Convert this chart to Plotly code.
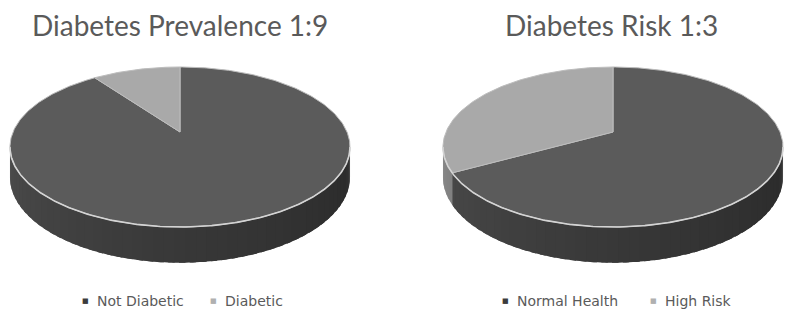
import numpy as np
import plotly.graph_objects as go

# ---- data ----
left_title = "Diabetes Prevalence 1:9"
left_labels = ["Not Diabetic", "Diabetic"]
left_values = [90, 10]

right_title = "Diabetes Risk 1:3"
right_labels = ["Normal Health", "High Risk"]
right_values = [67, 33]

slice_colors = ["#5b5b5b", "#a9a9a9"]
legend_colors = ["#3c3c3c", "#b0b0b0"]

# ---- geometry / style ----
W, H = 786, 320
R, A, K, DEPTH = 167, 77.2, 0.1875, 29
FONT = "Lato"
TXT = "#5a5a5a"


def proj(cx, cy, th, drop=0.0):
    t = np.radians(th)
    s, c = np.sin(t), np.cos(t)
    w = 1 + K * c
    return cx + R * s / w, cy - A * c / w + drop * DEPTH / w


def side_gray(th, light):
    g = np.interp(th, [100, 114, 180, 260], [60, 44, 56, 76])
    if light:
        g = g * 1.8
    g = int(round(min(g, 255)))
    return f"rgb({g},{g},{g})"


def side_poly(cx, cy, a0, a1, n):
    th = np.linspace(a0, a1, n)
    xt, yt = proj(cx, cy, th)
    xb, yb = proj(cx, cy, th[::-1], 1.0)
    return list(xt) + list(xb), list(yt) + list(yb)


def add_pie(fig, cx, cy, values):
    total = float(sum(values))
    bounds = np.concatenate([[0.0], np.cumsum(values) / total * 360.0])
    vis0 = np.degrees(np.arccos(-K))
    vis1 = 360.0 - vis0
    # outer side walls (front, visible part)
    for i in range(len(values)):
        a0, a1 = max(bounds[i], vis0), min(bounds[i + 1], vis1)
        if a1 <= a0:
            continue
        n = int(np.ceil((a1 - a0) / 3.0))
        edges = np.linspace(a0, a1, n + 1)
        step = edges[1] - edges[0]
        for t0, t1 in zip(edges[:-1], edges[1:]):
            t_end = min(t1 + 0.6 * step, a1)
            sx, sy = side_poly(cx, cy, t0, t_end, 6)
            col = side_gray((t0 + t1) / 2.0, i == 1)
            fig.add_trace(go.Scatter(
                x=sx, y=sy, fill="toself", fillcolor=col, mode="none",
                hoverinfo="skip", showlegend=False))
    # top faces
    for i in range(len(values)):
        n = max(3, int(np.ceil((bounds[i + 1] - bounds[i]) / 1.0)))
        th = np.linspace(bounds[i], bounds[i + 1], n + 1)
        x, y = proj(cx, cy, th)
        fig.add_trace(go.Scatter(
            x=[cx] + list(x) + [cx], y=[cy] + list(y) + [cy],
            fill="toself", fillcolor=slice_colors[i], mode="lines",
            line=dict(color="#bdbdbd", width=1),
            hoverinfo="skip", showlegend=False))
    # rim highlight on front edge
    th = np.linspace(vis0, vis1, 240)
    x, y = proj(cx, cy, th)
    fig.add_trace(go.Scatter(
        x=list(x), y=list(y), mode="lines",
        line=dict(color="#d4d4d4", width=1.6),
        hoverinfo="skip", showlegend=False))


fig = go.Figure()
add_pie(fig, 180, 132, left_values)
add_pie(fig, 613, 132, right_values)

ann = []
ann.append(dict(x=180, y=25, text=left_title, showarrow=False,
                xanchor="center", yanchor="middle",
                font=dict(family=FONT, size=28, color=TXT)))
ann.append(dict(x=611, y=25, text=right_title, showarrow=False,
                xanchor="center", yanchor="middle",
                font=dict(family=FONT, size=28, color=TXT)))

legend_pos = [
    (left_labels, [85, 213]),
    (right_labels, [505, 653]),
]
for labels, xs in legend_pos:
    for j, (lab, xm) in enumerate(zip(labels, xs)):
        ann.append(dict(x=xm, y=301, text="■", showarrow=False,
                        xanchor="center", yanchor="middle",
                        font=dict(family="DejaVu Sans", size=7,
                                  color=legend_colors[j])))
        ann.append(dict(x=xm + 10, y=301, text=lab, showarrow=False,
                        xanchor="left", yanchor="middle",
                        font=dict(family="DejaVu Sans", size=14, color=TXT)))

fig.update_layout(
    width=W, height=H,
    margin=dict(l=0, r=0, t=0, b=0),
    paper_bgcolor="white", plot_bgcolor="white",
    xaxis=dict(range=[0, W], visible=False, fixedrange=True),
    yaxis=dict(range=[H, 0], visible=False, fixedrange=True),
    annotations=ann,
    showlegend=False,
)

fig.write_html("out.html")
